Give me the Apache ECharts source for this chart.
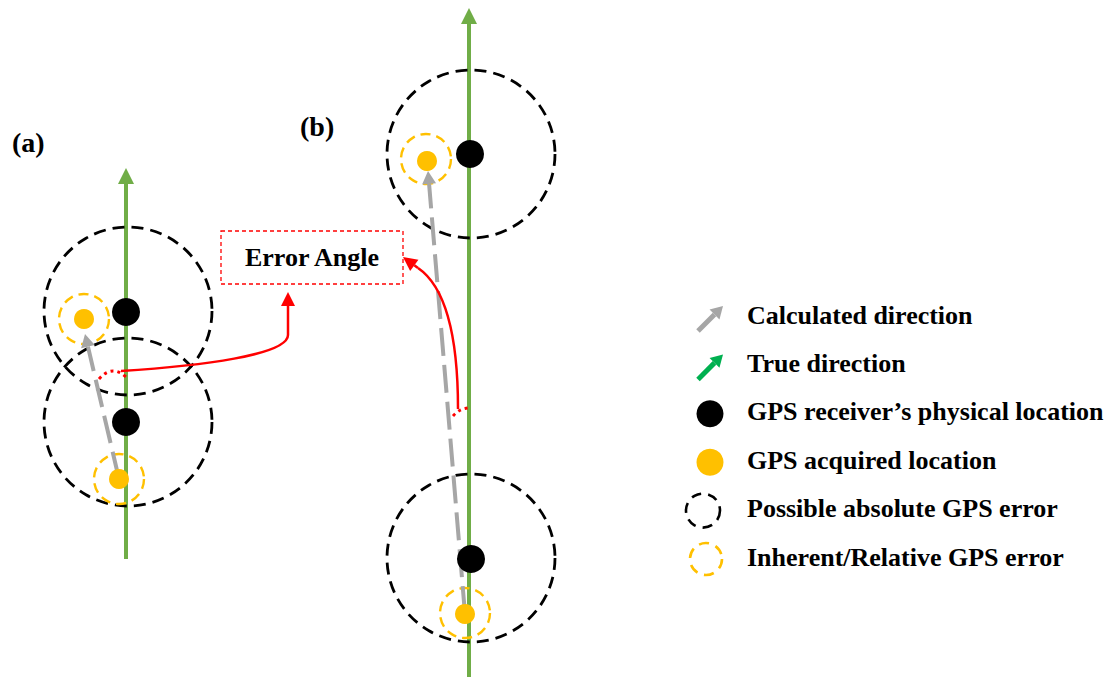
<!DOCTYPE html>
<html>
<head>
<meta charset="utf-8">
<script src="https://cdn.jsdelivr.net/npm/echarts@6/dist/echarts.min.js"></script>
<style>
html, body { margin: 0; padding: 0; background: #ffffff; }
#chart { width: 1114px; height: 677px; }
</style>
</head>
<body>
<div id="chart"></div>
<script>
// ---------- data (diagram coordinates, y grows downward) ----------
// true direction of travel: [xFrom, yFrom, xTo, yTo]
const trueDirection = [[126, 559, 126, 168], [469, 677, 469, 8]];
// calculated direction (acquired -> acquired): [xFrom, yFrom, xTo, yTo]
const calculatedDirection = [[119, 479, 85, 334], [465, 614, 428, 171]];
// GPS receiver's physical locations [x, y]
const receiverLocation = [[126, 312], [126, 422], [470, 154], [471, 559]];
// GPS acquired locations [x, y]
const acquiredLocation = [[84, 319], [119, 479], [427, 161], [465, 614]];
// possible absolute GPS error circles [cx, cy, r]
const absoluteError = [[128, 311, 84], [128, 422, 84], [471, 154, 84], [471, 558, 84]];
// inherent / relative GPS error circles [cx, cy, r]
const relativeError = [[84, 319, 25], [119, 479, 25], [426, 159, 25], [465, 613, 25]];
// error angle arcs (quadratic): [x0, y0, cx, cy, x1, y1]
const errorAngleArc = [[99, 379, 112, 364, 126, 377], [453, 416, 459, 409, 468, 408]];
// pointers to annotation (cubic + straight tip): [x0,y0,c1x,c1y,c2x,c2y,x1,y1,tipX,tipY]
const errorAnglePointer = [
  [121, 371, 200, 366, 288, 355, 288, 335, 288, 292],
  [458, 409, 458, 320, 440, 283, 418, 268, 403, 257]
];
// annotation box [x0, y0, x1, y1]
const errorAngleBox = [[221, 231, 403, 284]];
const annotationLabel = 'Error Angle';
const panelLabels = ['(a)', '(b)'];
const legendLabels = [
  'Calculated direction',
  'True direction',
  'GPS receiver\u2019s physical location',
  'GPS acquired location',
  'Possible absolute GPS error',
  'Inherent/Relative GPS error'
];

// ---------- styles ----------
const GREEN = '#70AD47';
const LEGEND_GREEN = '#00B050';
const GRAY = '#A6A6A6';
const ORANGE = '#FFC000';
const RED = '#FF0000';
const FONT = "'Liberation Serif', 'Times New Roman', serif";

function head(tip, from, len, wid, color) {
  const dx = tip[0] - from[0], dy = tip[1] - from[1];
  const d = Math.hypot(dx, dy) || 1;
  const ux = dx / d, uy = dy / d;
  const bx = tip[0] - ux * len, by = tip[1] - uy * len;
  return {
    base: [bx, by],
    shape: {
      type: 'polygon',
      shape: { points: [tip, [bx - uy * wid / 2, by + ux * wid / 2], [bx + uy * wid / 2, by - ux * wid / 2]] },
      style: { fill: color }
    }
  };
}

function arrowSeries(name, data, color, width, dash, hl, hw) {
  return {
    name: name, type: 'custom', coordinateSystem: 'cartesian2d', data: data, silent: true,
    renderItem: function (params, api) {
      const p0 = api.coord([api.value(0), api.value(1)]);
      const p1 = api.coord([api.value(2), api.value(3)]);
      const h = head(p1, p0, hl, hw, color);
      return {
        type: 'group',
        children: [
          { type: 'line', shape: { x1: p0[0], y1: p0[1], x2: h.base[0], y2: h.base[1] },
            style: { stroke: color, lineWidth: width, lineDash: dash, fill: null } },
          h.shape
        ]
      };
    }
  };
}

function circleSeries(name, data, color, width, dash) {
  return {
    name: name, type: 'custom', coordinateSystem: 'cartesian2d', data: data, silent: true,
    renderItem: function (params, api) {
      const c = api.coord([api.value(0), api.value(1)]);
      const r = api.size([api.value(2), 0])[0];
      return { type: 'circle', shape: { cx: c[0], cy: c[1], r: r },
        style: { fill: null, stroke: color, lineWidth: width, lineDash: dash } };
    }
  };
}

const chart = echarts.init(document.getElementById('chart'), null, { renderer: 'svg' });

// legend graphics (layout)
const legendTop = 317, legendStep = 48.4, iconX = 710, textX = 747;
const legendGraphics = [];
legendLabels.forEach(function (label, i) {
  const y = legendTop + i * legendStep;
  let icon;
  if (i === 0 || i === 1) {
    const col = i === 0 ? GRAY : LEGEND_GREEN;
    const from = [iconX - 12, y + 14], tip = [iconX + 13, y - 11];
    const h = head(tip, from, 12, 14, col);
    icon = { type: 'group', children: [
      { type: 'line', shape: { x1: from[0], y1: from[1], x2: h.base[0], y2: h.base[1] },
        style: { stroke: col, lineWidth: 5 } },
      h.shape
    ] };
  } else if (i === 2 || i === 3) {
    icon = { type: 'circle', shape: { cx: iconX, cy: y, r: 13.5 },
      style: { fill: i === 2 ? '#000000' : ORANGE } };
  } else {
    icon = { type: 'circle', shape: { cx: i === 4 ? iconX - 7 : iconX - 4, cy: y, r: i === 4 ? 17 : 16 },
      style: { fill: null, stroke: i === 4 ? '#000000' : ORANGE, lineWidth: 2.6, lineDash: [10, 7] } };
  }
  legendGraphics.push(icon);
  legendGraphics.push({
    type: 'text', left: textX, top: y - 15,
    style: { text: label, fill: '#000', font: 'bold 26px ' + FONT }
  });
});

const option = {
  animation: false,
  backgroundColor: '#ffffff',
  grid: { left: 0, right: 0, top: 0, bottom: 0, containLabel: false },
  xAxis: { type: 'value', min: 0, max: 1114, show: false },
  yAxis: { type: 'value', min: 0, max: 677, inverse: true, show: false },
  series: [
    arrowSeries('True direction', trueDirection, GREEN, 4, null, 16, 16),
    circleSeries('Possible absolute GPS error', absoluteError, '#000000', 2.8, [12, 7]),
    circleSeries('Inherent/Relative GPS error', relativeError, ORANGE, 2.4, [10, 6]),
    {
      name: 'GPS receiver\u2019s physical location', type: 'scatter', data: receiverLocation,
      symbol: 'circle', symbolSize: 28, itemStyle: { color: '#000000', opacity: 1 }, silent: true
    },
    {
      name: 'GPS acquired location', type: 'scatter', data: acquiredLocation,
      symbol: 'circle', symbolSize: 20, itemStyle: { color: ORANGE, opacity: 1 }, silent: true
    },
    arrowSeries('Calculated direction', calculatedDirection, GRAY, 4, [28, 9], 13, 14),
    {
      name: 'Error angle arc', type: 'custom', coordinateSystem: 'cartesian2d', data: errorAngleArc, silent: true,
      renderItem: function (params, api) {
        const a = api.coord([api.value(0), api.value(1)]);
        const c = api.coord([api.value(2), api.value(3)]);
        const b = api.coord([api.value(4), api.value(5)]);
        return { type: 'bezierCurve', shape: { x1: a[0], y1: a[1], cpx1: c[0], cpy1: c[1], x2: b[0], y2: b[1] },
          style: { stroke: RED, lineWidth: 3, lineDash: [3, 4], fill: null } };
      }
    },
    {
      name: 'Error angle pointer', type: 'custom', coordinateSystem: 'cartesian2d', data: errorAnglePointer, silent: true,
      renderItem: function (params, api) {
        const p0 = api.coord([api.value(0), api.value(1)]);
        const c1 = api.coord([api.value(2), api.value(3)]);
        const c2 = api.coord([api.value(4), api.value(5)]);
        const p1 = api.coord([api.value(6), api.value(7)]);
        const tip = api.coord([api.value(8), api.value(9)]);
        const h = head(tip, p1, 14, 14, RED);
        return { type: 'group', children: [
          { type: 'bezierCurve', shape: { x1: p0[0], y1: p0[1], cpx1: c1[0], cpy1: c1[1], cpx2: c2[0], cpy2: c2[1], x2: p1[0], y2: p1[1] },
            style: { stroke: RED, lineWidth: 2.5, fill: null } },
          { type: 'line', shape: { x1: p1[0], y1: p1[1], x2: h.base[0], y2: h.base[1] },
            style: { stroke: RED, lineWidth: 2.5 } },
          h.shape
        ] };
      }
    },
    {
      name: 'Error angle box', type: 'custom', coordinateSystem: 'cartesian2d', data: errorAngleBox, silent: true,
      renderItem: function (params, api) {
        const a = api.coord([api.value(0), api.value(1)]);
        const b = api.coord([api.value(2), api.value(3)]);
        return { type: 'group', children: [
          { type: 'rect', shape: { x: a[0], y: a[1], width: b[0] - a[0], height: b[1] - a[1] },
            style: { fill: null, stroke: RED, lineWidth: 1.3, lineDash: [4, 3] } },
          { type: 'text', x: (a[0] + b[0]) / 2, y: (a[1] + b[1]) / 2,
            style: { text: annotationLabel, fill: '#000', font: 'bold 26px ' + FONT, align: 'center', verticalAlign: 'middle' } }
        ] };
      }
    }
  ],
  graphic: [
    { type: 'text', left: 12, top: 128, style: { text: panelLabels[0], fill: '#000', font: 'bold 28px ' + FONT } },
    { type: 'text', left: 300, top: 112, style: { text: panelLabels[1], fill: '#000', font: 'bold 28px ' + FONT } }
  ].concat(legendGraphics)
};

chart.setOption(option);
</script>
</body>
</html>
